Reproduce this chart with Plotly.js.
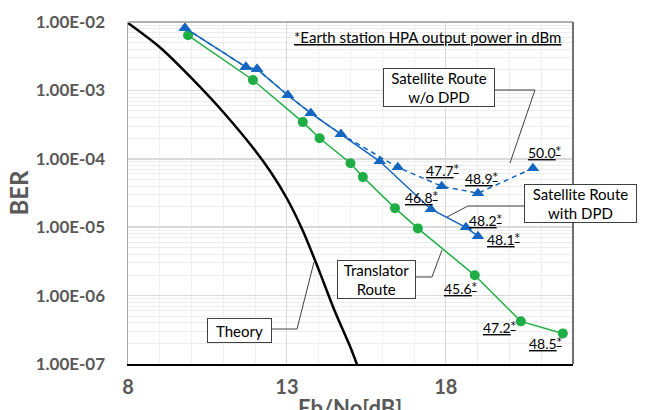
<!DOCTYPE html>
<html>
<head>
<meta charset="utf-8">
<script src="https://cdn.plot.ly/plotly-3.0.1.min.js"></script>
<style>html,body{margin:0;padding:0;background:#fff;}#chart{width:645px;height:410px;}</style>
</head>
<body>
<div id="chart"></div>
<script>
// ---- data ----
const theoryEbNo = [8, 9, 10, 11, 12, 12.5, 13, 13.5, 14, 14.5, 15, 15.4];
const theoryBER  = [9.66e-3, 4.27e-3, 1.51e-3, 4.79e-4, 1.32e-4, 6.3e-5, 2.63e-5, 8.9e-6, 2.4e-6, 6.0e-7, 1.74e-7, 5.6e-8];

const translatorEbNo = [9.89, 11.93, 13.50, 14.03, 15.00, 15.39, 16.40, 17.12, 18.91, 20.36, 21.68];
const translatorBER  = [6.4e-3, 1.42e-3, 3.44e-4, 2.0e-4, 8.6e-5, 5.4e-5, 1.9e-5, 9.6e-6, 1.98e-6, 4.2e-7, 2.8e-7];

const withDpdEbNo = [9.79, 11.71, 12.06, 13.03, 13.75, 14.70, 15.92, 17.53, 18.63, 19.01];
const withDpdBER  = [8.2e-3, 2.19e-3, 2.05e-3, 8.5e-4, 4.65e-4, 2.29e-4, 9.2e-5, 1.83e-5, 9.97e-6, 7.4e-6];

const withoutDpdEbNo = [9.79, 11.71, 12.06, 13.03, 13.75, 14.70, 16.49, 17.87, 19.01, 20.74];
const withoutDpdBER  = [8.2e-3, 2.19e-3, 2.05e-3, 8.5e-4, 4.65e-4, 2.29e-4, 7.5e-5, 3.97e-5, 3.13e-5, 7.3e-5];

const yTickVals = [1e-2, 1e-3, 1e-4, 1e-5, 1e-6, 1e-7];
const yTickText = ['1.00E-02', '1.00E-03', '1.00E-04', '1.00E-05', '1.00E-06', '1.00E-07'];
const xTickVals = [8, 13, 18];
const xTickText = ['8', '13', '18'];

const powerLabels = ['50.0', '47.7', '48.9', '46.8', '48.2', '48.1', '45.6', '47.2', '48.5'];
// ---- layout helpers (positions in pixels of the 645x410 picture) ----
const PL = 128, PR = 573, PT = 22, PB = 364;
const px = v => (v - PL) / (PR - PL);
const py = v => (PB - v) / (PB - PT);

const labelPos = [[544,152],[442,171],[481,178],[421,197],[485,220],[503,239],[460,288],[499,327],[545,343]];

const FONT = 'Lato, "Open Sans", sans-serif';
const BLUE = '#1466c0';
const GREEN = '#1fae45';

const traces = [
  {x: theoryEbNo, y: theoryBER, mode: 'lines', line: {color: '#000', width: 2.5, shape: 'spline', smoothing: 0.8}, name: 'Theory', showlegend: false},
  {x: translatorEbNo, y: translatorBER, mode: 'lines+markers', line: {color: GREEN, width: 1.5}, marker: {symbol: 'circle', size: 10, color: GREEN}, name: 'Translator Route', showlegend: false},
  {x: withDpdEbNo, y: withDpdBER, mode: 'lines+markers', line: {color: BLUE, width: 1.5}, marker: {symbol: 'triangle-up', size: 11, color: BLUE}, name: 'Satellite Route with DPD', showlegend: false},
  {x: withoutDpdEbNo, y: withoutDpdBER, mode: 'lines+markers', line: {color: BLUE, width: 1.5, dash: '5px,4px'}, marker: {symbol: 'triangle-up', size: 11, color: BLUE}, name: 'Satellite Route w/o DPD', showlegend: false}
];

// minor gridlines for log axis
const yMinor = [];
for (let e = -7; e < -2; e++) for (let m = 2; m <= 9; m++) yMinor.push(m * Math.pow(10, e));

const annotations = [];
annotations.push({xref: 'paper', yref: 'paper', x: px(427), y: py(37), xanchor: 'center', yanchor: 'middle', showarrow: false,
  text: '<u>*Earth station HPA output power in dBm</u>', font: {family: FONT, size: 15, color: '#000'}});

function box(text, cx, cy, w, h) {
  annotations.push({xref: 'paper', yref: 'paper', x: px(cx), y: py(cy), xanchor: 'center', yanchor: 'middle', showarrow: false,
    text: text, font: {family: FONT, size: 15, color: '#000'}, bordercolor: '#404040', borderwidth: 1, borderpad: 0,
    bgcolor: '#fff', width: w, height: h, align: 'center'});
}
box('Satellite Route<br>w/o DPD', 439, 87.5, 110, 37);
box('Satellite Route<br>with DPD', 580.5, 203.5, 111, 37);
box('Translator<br>Route', 376.5, 279.5, 77, 37);
box('Theory', 239.5, 330.5, 63, 23);

powerLabels.forEach((t, i) => {
  annotations.push({xref: 'paper', yref: 'paper', x: px(labelPos[i][0]), y: py(labelPos[i][1]), xanchor: 'center', yanchor: 'middle',
    showarrow: false, text: '<u>' + t + '<span style="font-family:DejaVu Sans;font-size:10px;baseline-shift:40%">*</span></u>',
    font: {family: FONT, size: 14, color: '#000'}});
});

annotations.push({xref: 'paper', yref: 'paper', x: px(350), y: py(392), xanchor: 'center', yanchor: 'top', showarrow: false,
  text: '<b>Eb/No[dB]</b>', font: {family: FONT, size: 22, color: '#595959'}});

function conn(pts) {
  return {type: 'path', xref: 'paper', yref: 'paper', layer: 'above',
    path: pts.map((p, i) => (i ? 'L' : 'M') + px(p[0]).toFixed(4) + ',' + py(p[1]).toFixed(4)).join(' '),
    line: {color: '#404040', width: 1}};
}
const shapes = [
  conn([[495,90],[535,90],[510,163]]),
  conn([[524,206],[468,206],[447,217]]),
  conn([[416,277],[432,277],[442,250]]),
  conn([[272,329],[297,329],[314,262]]),
  {type: 'line', xref: 'paper', yref: 'paper', x0: 0, x1: 1, y0: 1, y1: 1, line: {color: '#b0b0b0', width: 2}},
  {type: 'line', xref: 'paper', yref: 'paper', x0: 1, x1: 1, y0: 0, y1: 1, line: {color: '#404040', width: 1.5}}
];

const layout = {
  width: 645, height: 410,
  margin: {l: PL, r: 645 - PR, t: PT, b: 410 - PB, pad: 0},
  paper_bgcolor: '#fff', plot_bgcolor: '#fff',
  showlegend: false,
  xaxis: {
    range: [8, 22], tickvals: xTickVals, ticktext: xTickText, ticks: '',
    showgrid: true, gridcolor: '#d9d9d9', gridwidth: 1,
    minor: {dtick: 1, tick0: 8, showgrid: true, gridcolor: '#efefef', gridwidth: 1},
    showline: true, linecolor: '#000', linewidth: 1.5, zeroline: false,
    tickfont: {family: FONT, size: 20, color: '#595959', weight: 'bold'},
    ticklabelstandoff: 4
  },
  yaxis: {
    type: 'log', range: [-7, -2], tickvals: yTickVals, ticktext: yTickText, ticks: '',
    showgrid: true, gridcolor: '#d9d9d9', gridwidth: 1.5,
    minor: {tickvals: yMinor, showgrid: true, gridcolor: '#ededed', gridwidth: 1},
    showline: true, linecolor: '#a6a6a6', linewidth: 1.5, zeroline: false,
    tickfont: {family: FONT, size: 17, color: '#595959', weight: 'bold'},
    ticklabelstandoff: 18,
    title: {text: '<b>BER</b>', font: {family: FONT, size: 24, color: '#595959'}, standoff: 0}
  },
  annotations: annotations,
  shapes: shapes
};

Plotly.newPlot('chart', traces, layout, {displayModeBar: false, staticPlot: true});
</script>
</body>
</html>
